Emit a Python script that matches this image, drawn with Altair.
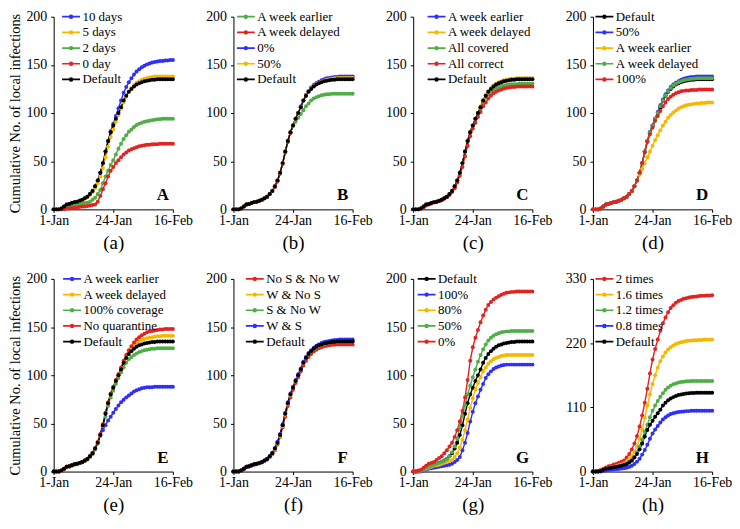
import altair as alt
import pandas as pd

# ---------------- data ----------------
DAYS = list(range(47))
X_TICK_VALUES = [0, 23, 46]
X_TICK_LABELS = ["1-Jan", "24-Jan", "16-Feb"]

BLUE = "#2e2eff"
YELLOW = "#f5b700"
GREEN = "#50ad48"
RED = "#e32222"
BLACK = "#000000"

DEFAULT = [0,0,0,1,3,5,5.5,6.5,7.5,8,9,10,11.5,13,16,19,24,30,38,48,60,71,80,87,94,100,106,113,118,122,125,127.5,129.5,131,132,133,133.5,134,134.5,134.5,135,135,135,135,135,135,135]

# Panel A
A_10 = [0,0,0,1,3,5,5.5,6.5,7.5,8,9,10,11.5,13,16,19,24,30,38,48,60,71,81,89,97,105,113,121,127,132,136,140,143,145.5,147.5,149,150.5,151.5,152.5,153,153.5,154,154,154.5,154.5,155,155]
A_5 = [0,0,0,1,2,4,5,6,7,7.5,8.5,9.5,11,12.5,15,18,22,27,34,43,54,65,75,83,91,98,105,111,117,122,126,129,131.5,133,134.5,135.5,136.5,137,137.5,138,138,138,138,138,138,138,138]
A_2 = [0,0,0,0,1,2,3,4,4.5,5,5.5,6,6.5,7,8,10,12,16,20,27,34,40,46,51,57,63,68,73,77,80.5,83,85.5,87.5,89,90,91,91.5,92,92.5,93,93.5,93.5,94,94,94,94,94]
A_0 = [0,0,0,0,0,1,1,1.5,2,2,2.5,3,3,3.5,4,4.5,5,8,14,21,27,34,40,44,48,51,54,57,59,61,62.5,63.5,64.5,65.5,66,66.5,67,67,67.5,67.5,67.5,68,68,68,68,68,68]

# Panel B
B_EARLIER = [0,0,0,1,3,5,5.5,6.5,7.5,8,9,10,11.5,13,16,19,24,30,38,48,60,71,80,87,91,95,99,103,107,110,113,115,116.5,117.5,118.5,119,119.5,119.5,120,120,120,120,120,120,120,120,120]
B_DELAYED = [0,0,0,1,3,5,5.5,6.5,7.5,8,9,10,11.5,13,16,19,23,29,37,47,59,70,79,87,94,100,106,113,118,122.5,126,128.5,130.5,132,133.5,134.5,135,135.5,136,136.5,136.5,137,137,137,137,137,137]
B_0 = [0,0,0,1,3,5,5.5,6.5,7.5,8,9,10,11.5,13,16,19,24,30,38,48,60,71,80,87,94,100,107,113,119,123,126.5,129,131,132.5,134,135,136,136.5,137,137.5,137.5,138,138,138,138,138,138]
B_50 = [0,0,0,1,3,5,5.5,6.5,7.5,8,9,10,11.5,13,16,19,24,30,38,48,60,71,80,87,94,100,106,113,118.5,122.5,125.5,128,130,131.5,132.5,133.5,134.5,135,135.5,136,136,136.5,136.5,136.5,136.5,136.5,136.5]

# Panel C
C_EARLIER = [0,0,0,1,3,5,5.5,6.5,7.5,8,9,10,11.5,13,16,19,24,30,38,48,60,71,80,87,94,100,106,112.5,118,122,125,127.5,129.5,131,132,133,134,134.5,135,135,135.5,135.5,135.5,135.5,135.5,135.5,135.5]
C_DELAYED = [0,0,0,1,3,5,5.5,6.5,7.5,8,9,10,11.5,13,16,19,24,30,38,48,60,71,80,87,94,100,107,113.5,119,123,126,128.5,130.5,132,133,134,134.5,135,135.5,135.5,136,136,136,136,136,136,136]
C_COVERED = [0,0,0,1,3,5,5.5,6.5,7.5,8,9,10,11.5,13,16,19,24,30,38,48,60,71,80,87,94,100,105,111,116,119.5,122,124,125.5,127,128,128.5,129,129.5,130,130,130,130.5,130.5,130.5,130.5,130.5,130.5]
C_CORRECT = [0,0,0,1,2,4,5,6,7,7.5,8.5,9.5,11,12.5,15,18,22,28,35,44,55,66,76,84,90,96,101,107,111,115,118,120.5,122,123.5,124.5,125.5,126,126.5,127,127,127.5,127.5,127.5,127.5,127.5,127.5,127.5]

# Panel D
D_50 = [0,0,0,1,3,5,5.5,6.5,7.5,8,9,10,11.5,13,16,19,24,30,38,48,60,71,80,87,94,101,108,114,119.5,123.5,127,129.5,131.5,133,134.5,135.5,136.5,137,137.5,137.5,138,138,138,138,138,138,138]
D_EARLIER = [0,0,0,1,3,5,5.5,6.5,7.5,8,9,10,11.5,13,16,19,24,30,36,42,48,54,60,66,72,77,82,87,91,95,98,100.5,102.5,104.5,106,107,108,108.5,109,109.5,110,110,110.5,110.5,111,111,111]
D_DELAYED = [0,0,0,1,3,5,5.5,6.5,7.5,8,9,10,11.5,13,16,19,24,30,38,48,60,71,80,87,94,100,107,113,118.5,122.5,126,128.5,130.5,132,133,134,134.5,135,135.5,135.5,136,136,136,136,136,136,136]
D_100 = [0,0,0,1,3,5,5.5,6.5,7.5,8,9,10,11.5,13,16,19,24,30,38,48,59,70,78,85,92,97,102,107,111,114.5,117,119,120.5,121.5,122.5,123,123.5,123.5,124,124,124,124.5,124.5,124.5,124.5,124.5,124.5]

# Panel E
E_EARLIER = [0,0,0,1,3,5,5.5,6.5,7.5,8,9,10,11.5,13,16,19,24,30,38,43,48,53,57,61,65,68.5,72,74.5,77,79,81,83,84.5,85.5,86.5,87,87.5,87.5,87.5,88,88,88,88,88,88,88,88]
E_DELAYED = [0,0,0,1,3,5,5.5,6.5,7.5,8,9,10,11.5,13,16,19,24,30,38,48,60,71,80,87,94,100,107,114,119,124,127.5,130.5,133,135,136.5,137.5,138.5,139,139.5,140,140.5,140.5,141,141,141,141,141]
E_COVERAGE = [0,0,0,1,2.5,4.5,5,6,7,7.5,8.5,9.5,11,12.5,15,18,23,29,37,47,57,68,77,84,91,97,103,108,113,116.5,119,121,122.5,124,125,126,126.5,127,127.5,127.5,128,128,128,128,128,128,128]
E_NOQ = [0,0,0,1,3,5,5.5,6.5,7.5,8,9,10,11.5,13,16,19.5,24.5,31,39,49,61,72,81,88,95,101,108,115,121,126,130,134,137,139.5,141.5,143,144.5,145.5,146,146.5,147,147.5,147.5,148,148,148,148]

# Panel F
F_NONE = [0,0,0,1,2.5,4.5,5,6,7,7.5,8.5,9.5,11,12.5,15,18,22,28,36,46,57,68,77,85,92,98,104,110,115,119,122,124.5,126.5,128,129,130,130.5,131,131.5,131.5,132,132,132,132,132,132,132]
F_W = [0,0,0,1,3,5,5.5,6.5,7.5,8,9,10,11.5,13,15.5,18.5,23,29,37,47,59,70,79,87,94,100,106,112.5,117.5,121.5,124.5,127,129,130.5,131.5,132.5,133.5,134,134.5,134.5,135,135,135,135,135,135,135]
F_S = [0,0,0,1,3,5,5.5,6.5,7.5,8,9,10,11.5,13,16,19,24,30,38,48,60,71,80,87,94,100,106,113,118,122,125,127.5,129.5,131,132,133,133.5,134,134.5,135,135,135.5,135.5,135.5,135.5,135.5,135.5]
F_WS = [0,0,0,1,3,5,5.5,6.5,7.5,8,9,10,11.5,13,16,19.5,24.5,31,39,49,61,72,81,88,95,101,107,114,119,123,126,128.5,130.5,132,133.5,134.5,135,135.5,136,136.5,136.5,137,137,137,137,137,137]

# Panel G
G_100 = [0,0,0,0,1,2,3,3.5,4,4.5,5,5.5,6,6.5,7,8,10,12,15,22,30,40,52,62,71,78,85,91,97,101,104,106.5,108,109,110,110.5,111,111,111,111,111,111,111,111,111,111,111]
G_80 = [0,0,0,1,2,3,4,5,6,6.5,7,8,9,10,11,12,15,19,25,33,43,54,66,76,85,92,98,104,108,112,114.5,116.5,118,119,120,120.5,121,121,121,121,121,121,121,121,121,121,121]
G_50 = [0,0,0,1,2,4,5,6,7,8,9,10,11,13,16,20,26,34,46,58,69,80,89,98,106,114,121,127,132,136,139,141,142.5,143.5,144.5,145,145.5,145.5,146,146,146,146,146,146,146,146,146]
G_0 = [0,0,1,2,4,6,8,9,10,12,14,16,19,22,26,30,36,43,52,63,77,95,115,129,139,147,155,162,168,173,176,178.5,180.5,182,183.5,184.5,185.5,186,186.5,186.5,187,187,187,187,187,187,187]

# Panel H
H_2 = [0,0,1,3,5,7,9,10,12,13,15,17,19,24,30,38,48,61,77,96,118,142,168,192,210,226,241,254,264,273,280,285,289,292,294,296,297,298,299,299.5,300,300.5,301,301,301.5,301.5,302]
H_16 = [0,0,0,2,3,5,6,7,8,9,11,12,14,17,21,26,33,43,56,72,92,113,132,150,165,178,189,197,204,209,213,216,218.5,220,221.5,222.5,223.5,224,224.5,225,225,225.5,225.5,226,226,226,226]
H_12 = [0,0,0,1,2,4,5,6,7,7.5,8,9,10,12,15,19,25,33,43,55,68,80,93,104,113,121,128,134,140,144,147,149.5,151,152.5,153.5,154,154.5,154.5,155,155,155,155,155,155,155,155,155]
H_08 = [0,0,0,0,1,2,2.5,3,3.5,4,4.5,5,5.5,6.5,8,10,13,17,22,29,37,46,56,65,72,78,84,89,93,96,98.5,100,101,102,102.5,103,103.5,103.5,104,104,104,104,104,104,104,104,104]

Y_TICKS_STD = [0, 50, 100, 150, 200]
Y_TICKS_H = [0, 110, 220, 330]

PANELS = [
    dict(letter="A", caption="(a)", ymax=200, yticks=Y_TICKS_STD, lx=7,
         labels=["10 days", "5 days", "2 days", "0 day", "Default"],
         colors=[BLUE, YELLOW, GREEN, RED, BLACK],
         series=[A_10, A_5, A_2, A_0, DEFAULT]),
    dict(letter="B", caption="(b)", ymax=200, yticks=Y_TICKS_STD, lx=2,
         labels=["A week earlier", "A week delayed", "0%", "50%", "Default"],
         colors=[GREEN, RED, BLUE, YELLOW, BLACK],
         series=[B_EARLIER, B_DELAYED, B_0, B_50, DEFAULT]),
    dict(letter="C", caption="(c)", ymax=200, yticks=Y_TICKS_STD, lx=13,
         labels=["A week earlier", "A week delayed", "All covered", "All correct", "Default"],
         colors=[BLUE, YELLOW, GREEN, RED, BLACK],
         series=[C_EARLIER, C_DELAYED, C_COVERED, C_CORRECT, DEFAULT]),
    dict(letter="D", caption="(d)", ymax=200, yticks=Y_TICKS_STD, lx=1,
         labels=["Default", "50%", "A week earlier", "A week delayed", "100%"],
         colors=[BLACK, BLUE, YELLOW, GREEN, RED],
         series=[DEFAULT, D_50, D_EARLIER, D_DELAYED, D_100]),
    dict(letter="E", caption="(e)", ymax=200, yticks=Y_TICKS_STD, lx=8,
         labels=["A week earlier", "A week delayed", "100% coverage", "No quarantine", "Default"],
         colors=[BLUE, YELLOW, GREEN, RED, BLACK],
         series=[E_EARLIER, E_DELAYED, E_COVERAGE, E_NOQ, DEFAULT]),
    dict(letter="F", caption="(f)", ymax=200, yticks=Y_TICKS_STD, lx=11,
         labels=["No S & No W", "W & No S", "S & No W", "W & S", "Default"],
         colors=[RED, YELLOW, GREEN, BLUE, BLACK],
         series=[F_NONE, F_W, F_S, F_WS, DEFAULT]),
    dict(letter="G", caption="(g)", ymax=200, yticks=Y_TICKS_STD, lx=3,
         labels=["Default", "100%", "80%", "50%", "0%"],
         colors=[BLACK, BLUE, YELLOW, GREEN, RED],
         series=[DEFAULT, G_100, G_80, G_50, G_0]),
    dict(letter="H", caption="(h)", ymax=330, yticks=Y_TICKS_H, lx=1,
         labels=["2 times", "1.6 times", "1.2 times", "0.8 times", "Default"],
         colors=[RED, YELLOW, GREEN, BLUE, BLACK],
         series=[H_2, H_16, H_12, H_08, DEFAULT]),
]

Y_TITLE = "Cumulative No. of local infections"

# ---------------- chart ----------------
FONT = "Liberation Serif"
W, H = 120, 194
# legend symbol: short line with a dot (size 100 -> 5 px per unit)
SYMBOL = "M-1.8,0H1.8M-0.27,0A0.27,0.27,0,1,1,0.27,0A0.27,0.27,0,1,1,-0.27,0"

label_expr = " : ".join(
    f"datum.value == {v} ? '{t}'" for v, t in zip(X_TICK_VALUES[:-1], X_TICK_LABELS[:-1])
) + f" : '{X_TICK_LABELS[-1]}'"


def make_panel(i, p):
    rows = []
    for k, (lab, vals) in enumerate(zip(p["labels"], p["series"])):
        for d, v in zip(DAYS, vals):
            rows.append({"day": d, "value": v, "series": lab, "k": k})
    df = pd.DataFrame(rows)

    scale = alt.Scale(domain=p["labels"], range=p["colors"])
    first_col = i % 4 == 0
    x = alt.X("day:Q", scale=alt.Scale(domain=[0, 46], nice=False, zero=False),
              axis=alt.Axis(values=X_TICK_VALUES, labelExpr=label_expr, title=p["caption"],
                            titleFontSize=19, titlePadding=6, tickSize=3, labelPadding=1,
                            labelFlush=False))
    y = alt.Y("value:Q", scale=alt.Scale(domain=[0, p["ymax"]], nice=False),
              axis=alt.Axis(values=p["yticks"], title=Y_TITLE if first_col else None,
                            titleFontSize=14.5, titlePadding=3, tickSize=3, labelPadding=4))
    legend = alt.Legend(orient="none", legendX=p["lx"] + 4, legendY=-6.5, title=None,
                        symbolType=SYMBOL, symbolSize=100, symbolStrokeWidth=1.7,
                        labelFont=FONT, labelFontSize=13, labelColor="black",
                        labelOffset=5, rowPadding=1.8, padding=0, labelLimit=300)

    base = alt.Chart(df)
    lines = base.mark_line(strokeWidth=1.4).encode(
        x=x, y=y,
        color=alt.Color("series:N", scale=scale, legend=legend),
        detail="k:O",
    )
    pts = base.mark_circle(size=16, opacity=1).encode(
        x="day:Q", y="value:Q",
        color=alt.Color("series:N", scale=scale, legend=None),
    )
    letter = alt.Chart(pd.DataFrame({"t": [p["letter"]]})).mark_text(
        font=FONT, fontSize=17, fontWeight="bold", color="black"
    ).encode(text="t:N", x=alt.value(W - 10), y=alt.value(H - 14))
    return alt.layer(lines, pts, letter).properties(width=W, height=H)


charts = [make_panel(i, p) for i, p in enumerate(PANELS)]

chart = alt.concat(
    *charts, columns=4, spacing=alt.RowColnumber(row=70, column=61), bounds="flush"
).resolve_scale(
    color="independent", x="independent", y="independent"
).resolve_legend(
    color="independent"
).properties(
    padding={"left": 0, "top": 0, "right": 0, "bottom": 0}
).configure(
    font=FONT
).configure_view(
    stroke=None
).configure_axis(
    grid=False, domainColor="black", tickColor="black", labelColor="black",
    titleColor="black", labelFont=FONT, titleFont=FONT, labelFontSize=14,
    titleFontWeight="normal", domainWidth=1, tickWidth=1
).configure_legend(
    labelFont=FONT, labelFontSize=13, labelColor="black"
)

chart.save("out.html", embed_options={"renderer": "svg", "actions": False})
